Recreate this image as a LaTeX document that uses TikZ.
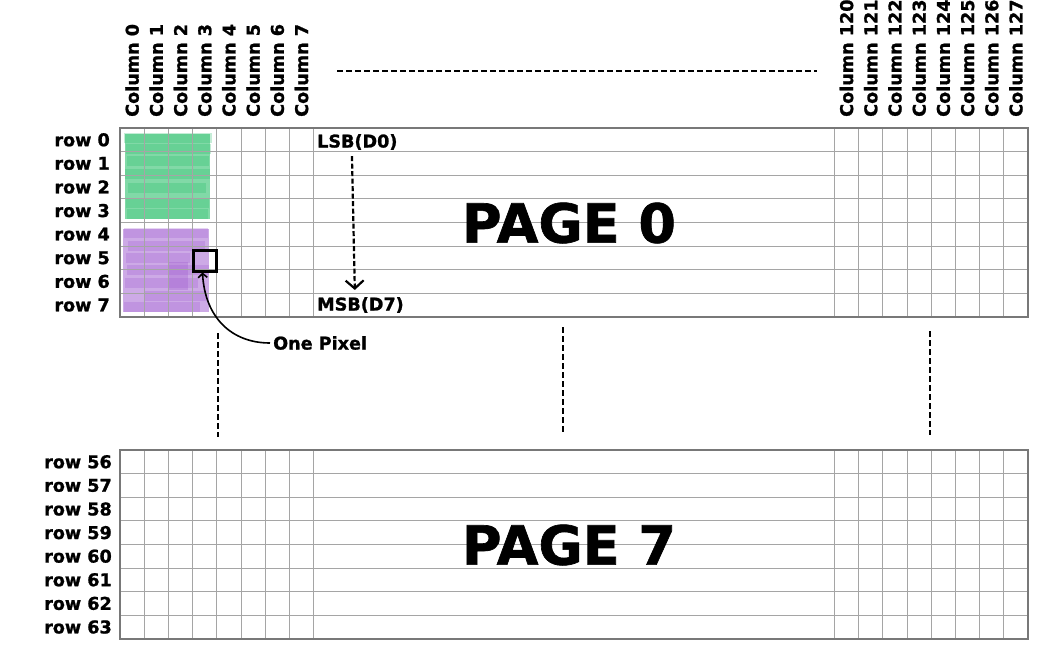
\documentclass[tikz,border=0pt]{standalone}
\usepackage{fontspec}
\setmainfont{DejaVu Sans}[BoldFeatures={FakeBold=1.2}]
\usetikzlibrary{arrows.meta}
\definecolor{gridgray}{RGB}{165,165,165}
\definecolor{framegray}{RGB}{120,120,120}
\definecolor{markgreen}{RGB}{25,185,95}
\definecolor{markpurple}{RGB}{155,85,205}
\begin{document}
\begin{tikzpicture}[x=1pt,y=-1pt,
  lbl/.style={font=\fontsize{17.6}{17.6}\selectfont\bfseries, inner sep=0pt},
  collbl/.style={lbl, rotate=90, anchor=west},
  rowlbl/.style={lbl, anchor=east},
  pagelbl/.style={font=\fontsize{54}{54}\selectfont\bfseries, inner sep=0pt},
  gridline/.style={gridgray, line width=1pt},
  frame/.style={framegray, line width=2pt},
  gapline/.style={dash pattern=on 6pt off 3pt, line width=2.2pt}]
\useasboundingbox (0,0) rectangle (1054,645);
% marker strokes
\fill[markgreen, opacity=0.55] (125,134) rectangle (210,219);
\foreach \y/\a/\b in {138/124/212,149/126/211,161/127/209,174/125/210,188/128/206,203/126/209,214/127/208}
  \fill[markgreen, opacity=0.25] (\a,\y-5) rectangle (\b,\y+5);
\fill[markpurple, opacity=0.5] (123,229) rectangle (209,312);
\foreach \y/\a/\b in {233/124/208,246/128/205,258/126/190,270/127/209,283/125/198,296/145/206,307/124/200}
  \fill[markpurple, opacity=0.25] (\a,\y-5) rectangle (\b,\y+5);
\fill[markpurple, opacity=0.3] (168,262) rectangle (188,290);
% the two pages
\foreach \top in {128,450} {
  \foreach \i in {1,...,7}
    \draw[gridline] (120,\top+\i*23.6) -- (1028,\top+\i*23.6);
  \foreach \j in {1,...,8} {
    \draw[gridline] (120+\j*24.2,\top) -- (120+\j*24.2,\top+189);
    \draw[gridline] (1028-\j*24.2,\top) -- (1028-\j*24.2,\top+189);
  }
  \draw[frame] (120,\top) rectangle (1028,\top+189);
}
% column labels
\foreach \c in {0,...,7}
  \node[collbl] (col\c) at (132.1+\c*24.2,117) {Column \c};
\foreach \c in {120,...,127}
  \node[collbl] (col\c) at (846.5+\c*24.2-2904,117) {Column \c};
\draw[gapline] (337,71) -- (817,71);
% row labels
\foreach \r in {0,...,7}
  \node[rowlbl] (row\r) at (110,139.8+\r*23.6) {row \r};
\foreach \r [count=\k from 0] in {56,...,63}
  \node[rowlbl] (row\r) at (112,461.8+\k*23.6) {row \r};
% page titles
\node[pagelbl] (page0) at (569,223) {PAGE 0};
\node[pagelbl] (page7) at (569,545) {PAGE 7};
% bit order
\node[lbl, anchor=west] (lsb) at (317,142) {LSB(D0)};
\node[lbl, anchor=west] (msb) at (317,305) {MSB(D7)};
\draw[dash pattern=on 5pt off 2.5pt, line width=2.2pt, -{Straight Barb[length=8pt,width=18pt]},
  shorten <=6pt, shorten >=7pt] ([xshift=-5.5pt]lsb.south) -- ([xshift=-5.5pt]msb.north);
% one pixel
\node[draw, line width=3pt, minimum width=23pt, minimum height=21pt, inner sep=0pt] (pixel) at (204.5,260.5) {};
\node[lbl, anchor=west] (pixtxt) at (273,343) {One Pixel};
\draw[line width=1.6pt, -{Straight Barb[length=4pt,width=9pt]}]
  ([xshift=-3pt]pixtxt.west) .. controls (232,343) and (205,318) .. ([xshift=-2pt]pixel.south);
% rows in between
\foreach \x/\a/\b in {218/333/437,563/327/432,930/331/435}
  \draw[gapline] (\x,\a) -- (\x,\b);
\end{tikzpicture}
\end{document}
